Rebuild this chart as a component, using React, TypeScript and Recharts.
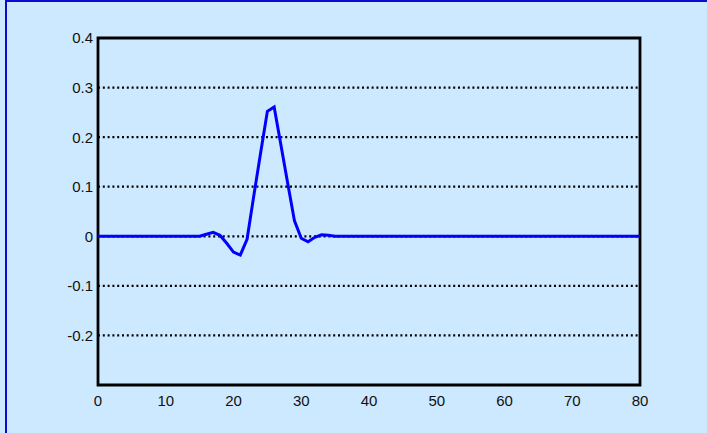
import React from "react";
import {
  LineChart,
  Line,
  XAxis,
  YAxis,
  CartesianGrid,
  ReferenceArea,
} from "recharts";

// sample index 0..80
const sampleX: number[] = Array.from({ length: 81 }, (_, i) => i);

// response values, flat outside the pulse
const pulse: Record<number, number> = {
  16: 0.004,
  17: 0.008,
  18: 0.002,
  19: -0.014,
  20: -0.032,
  21: -0.038,
  22: -0.006,
  23: 0.082,
  24: 0.168,
  25: 0.252,
  26: 0.261,
  27: 0.184,
  28: 0.107,
  29: 0.031,
  30: -0.004,
  31: -0.011,
  32: -0.002,
  33: 0.003,
  34: 0.002,
};
const response: number[] = sampleX.map((x) => pulse[x] ?? 0);

const xTicks = [0, 10, 20, 30, 40, 50, 60, 70, 80];
const yTicks = [-0.3, -0.2, -0.1, 0, 0.1, 0.2, 0.3, 0.4];

const data = sampleX.map((x, i) => ({ x, y: response[i] }));

const FONT = "Liberation Sans, Arial, sans-serif";
const FONT_SIZE = 15;

const fmtY = (v: number) => (v === -0.3 ? "" : String(Math.round(v * 10) / 10));

function XTick(props: any) {
  const { x, y, payload } = props;
  return (
    <text x={x} y={y + 10} dy="0.72em" textAnchor="middle" fill="#111" fontSize={FONT_SIZE} fontFamily={FONT}>
      {payload.value}
    </text>
  );
}

function YTick(props: any) {
  const { x, y, payload } = props;
  return (
    <text x={x - 5} y={y} dy="0.36em" textAnchor="end" fill="#111" fontSize={FONT_SIZE} fontFamily={FONT}>
      {fmtY(payload.value)}
    </text>
  );
}

export default function App() {
  return (
    <div
      style={{
        position: "fixed",
        left: 0,
        top: 0,
        width: 707,
        height: 433,
        background: "#cce9ff",
        overflow: "hidden",
      }}
    >
      <div
        style={{
          position: "absolute",
          left: 5,
          top: 0,
          width: 800,
          height: 600,
          borderLeft: "2px solid #0a0ad0",
          borderTop: "2px solid #0a0ad0",
        }}
      />
      <div style={{ position: "absolute", left: 0, top: 0 }}>
        <LineChart
          width={707}
          height={433}
          data={data}
          margin={{ top: 38, right: 67, bottom: 0, left: 0 }}
        >
          <CartesianGrid
            vertical={false}
            horizontal={{ stroke: "#000", strokeWidth: 2.2, strokeDasharray: "2 2.8" }}
            stroke="#000"
            strokeWidth={2.2}
            strokeDasharray="2 2.8"
          />
          <XAxis
            dataKey="x"
            type="number"
            domain={[0, 80]}
            ticks={xTicks}
            height={48}
            axisLine={false}
            tickLine={false}
            tickSize={0}
            tickMargin={0}
            tick={<XTick />}
          />
          <YAxis
            type="number"
            domain={[-0.3, 0.4]}
            ticks={yTicks}
            width={98}
            axisLine={false}
            tickLine={false}
            tickSize={0}
            tickMargin={0}
            tick={<YTick />}
          />
          <ReferenceArea
            x1={0}
            x2={80}
            y1={-0.3}
            y2={0.4}
            fill="none"
            stroke="#000"
            strokeWidth={2.8}
          />
          <Line
            dataKey="y"
            type="linear"
            stroke="#0000ff"
            strokeWidth={3}
            dot={false}
            isAnimationActive={false}
          />
        </LineChart>
      </div>
    </div>
  );
}
